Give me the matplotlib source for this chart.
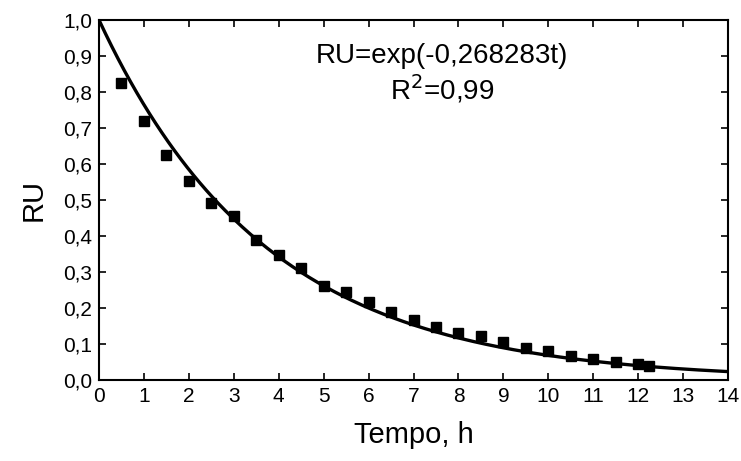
import numpy as np
import matplotlib.pyplot as plt

plt.rcParams['font.family'] = ['Liberation Sans', 'DejaVu Sans']

tempo = [0.5, 1.0, 1.5, 2.0, 2.5, 3.0, 3.5, 4.0, 4.5, 5.0, 5.5, 6.0, 6.5,
         7.0, 7.5, 8.0, 8.5, 9.0, 9.5, 10.0, 10.5, 11.0, 11.5, 12.0, 12.25]
ru = [0.825, 0.72, 0.625, 0.553, 0.493, 0.455, 0.388, 0.348, 0.31, 0.262,
      0.245, 0.217, 0.19, 0.168, 0.147, 0.13, 0.123, 0.105, 0.09, 0.08,
      0.068, 0.057, 0.05, 0.045, 0.04]

# fitted model shown on the chart
k = 0.268283
x_ticks = list(range(0, 15))
y_ticks = [i / 10 for i in range(11)]

fig = plt.figure(figsize=(7.41, 4.61), dpi=100)
ax = fig.add_axes([0.1336, 0.1757, 0.849, 0.781])

tt = np.linspace(0, 14, 300)
ax.plot(tt, np.exp(-k * tt), color='black', linewidth=2.4)
ax.plot(tempo, ru, linestyle='none', marker='s', markersize=6.8, color='black')

ax.set_xlim(0, 14)
ax.set_ylim(0, 1)
ax.set_xticks(x_ticks)
ax.set_yticks(y_ticks)
ax.set_yticklabels([f'{v:.1f}'.replace('.', ',') for v in y_ticks])
ax.tick_params(direction='in', top=True, right=True, labelsize=15,
               width=1.2, length=5, pad=5)
for s in ax.spines.values():
    s.set_linewidth(1.5)

ax.set_xlabel('Tempo, h', fontsize=21, labelpad=11)
ax.set_ylabel('RU', fontsize=21, labelpad=11)

ax.text(0.545, 0.881, 'RU=exp(-0,268283t)', transform=ax.transAxes,
        ha='center', va='baseline', fontsize=20)
ax.text(0.545, 0.778, 'R$^2$=0,99', transform=ax.transAxes,
        ha='center', va='baseline', fontsize=20)

plt.savefig('out.png', dpi=100)
